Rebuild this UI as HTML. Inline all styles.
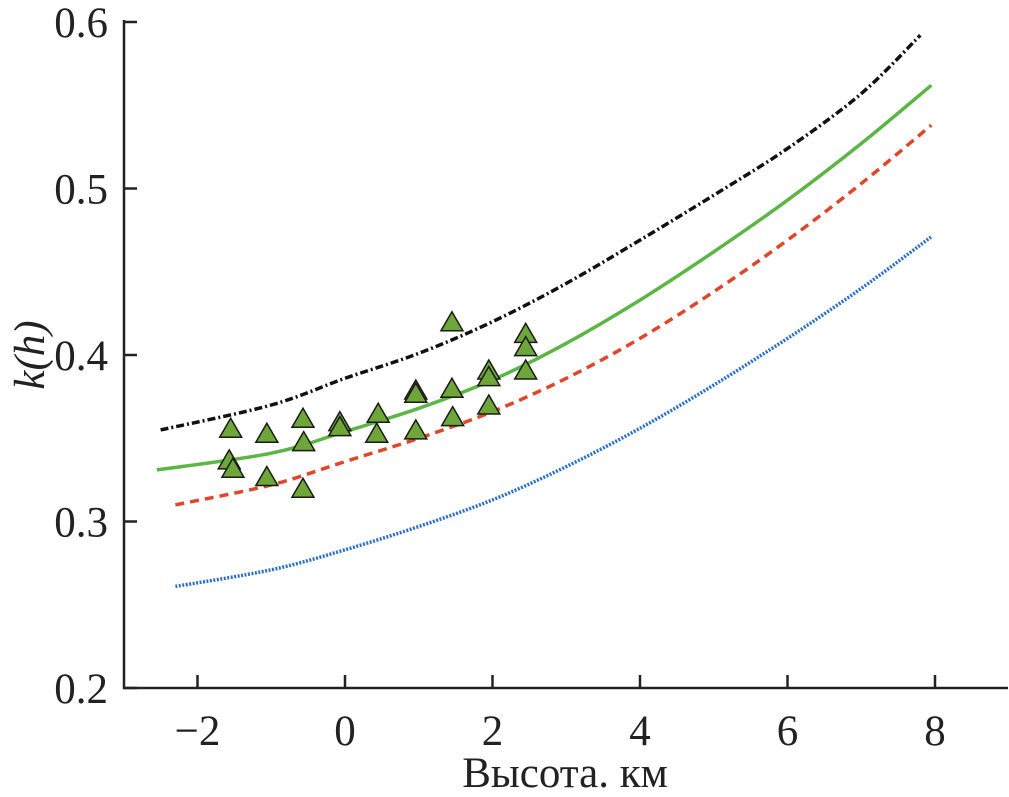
<!DOCTYPE html>
<html><head><meta charset="utf-8"><style>
body{margin:0;background:#fff}
svg{display:block;font-family:"Liberation Serif","Times New Roman",serif}
</style></head><body>
<svg id="c" width="1009" height="797" viewBox="0 0 1009 797" xmlns="http://www.w3.org/2000/svg"></svg>
<script>
const xTicks=[-2,0,2,4,6,8];
const yTicks=[0.2,0.3,0.4,0.5,0.6];
const hBlack=[-2.5,-1,0,1,2,3,4,5,6,7,7.8];
const kBlack=[0.355,0.370,0.386,0.401,0.420,0.443,0.469,0.496,0.524,0.557,0.592];
const hGreen=[-2.55,-1,0,1,2,3,4,5,6,7,7.95];
const kGreen=[0.331,0.341,0.354,0.368,0.385,0.407,0.433,0.462,0.493,0.527,0.562];
const hRed=[-2.3,-1,0,1,2,3,4,5,6,7,7.95];
const kRed=[0.310,0.322,0.336,0.350,0.366,0.386,0.410,0.438,0.469,0.503,0.538];
const hBlue=[-2.3,-1,0,1,2,3,4,5,6,7,7.95];
const kBlue=[0.261,0.271,0.283,0.297,0.313,0.333,0.356,0.382,0.410,0.440,0.471];
const obsH=[-1.55,-1.57,-1.52,-1.06,-1.06,-0.57,-0.56,-0.57,-0.07,-0.07,0.45,0.43,0.96,0.96,0.96,1.45,1.45,1.46,1.95,1.95,1.95,2.45,2.45,2.45];
const obsK=[0.356,0.337,0.332,0.353,0.327,0.362,0.348,0.320,0.360,0.357,0.365,0.353,0.379,0.377,0.355,0.420,0.380,0.363,0.391,0.387,0.370,0.413,0.405,0.391];

const NS="http://www.w3.org/2000/svg";
const svg=document.getElementById('c');
const X=h=>345+h*73.75;
const Y=k=>688-(k-0.2)*1665;
function mk(t,a,p){const e=document.createElementNS(NS,t);for(const k in a)e.setAttribute(k,a[k]);(p||svg).appendChild(e);return e;}

const axes=mk('g',{});


mk('path',{d:'M124,20 V688 H1008',fill:'none',stroke:'#222','stroke-width':2.5},axes);
xTicks.forEach(v=>{
  mk('line',{x1:X(v),x2:X(v),y1:688,y2:675,stroke:'#222','stroke-width':2.5},axes);
  const t=mk('text',{x:X(v),y:745,'font-size':43,'text-anchor':'middle',fill:'#222'},axes);
  t.textContent=v<0?'\u2212'+(-v):String(v);
  
  
});
yTicks.forEach(v=>{
  mk('line',{x1:124,x2:137,y1:Y(v),y2:Y(v),stroke:'#222','stroke-width':2.5},axes);
  const t=mk('text',{x:108,y:Y(v)+15,'font-size':43,'text-anchor':'end',fill:'#222'},axes);
  t.textContent=v.toFixed(1);
  
  
});
const xt=mk('text',{x:565,y:787,'font-size':43,'text-anchor':'middle',fill:'#222'});
xt.textContent='Высота. км';


const yt=mk('text',{x:0,y:0,'font-size':43,'text-anchor':'middle',fill:'#222','font-style':'italic',transform:'translate(44,355) rotate(-90)'});
yt.textContent='k(h)';



function line(hs,ks,color,dash,name){
  const P=hs.map((h,i)=>[X(h),Y(ks[i])]);
  let d='M'+P[0][0].toFixed(1)+','+P[0][1].toFixed(1);
  for(let i=0;i<P.length-1;i++){
    const p0=P[Math.max(0,i-1)],p1=P[i],p2=P[i+1],p3=P[Math.min(P.length-1,i+2)];
    const c1=[p1[0]+(p2[0]-p0[0])/6,p1[1]+(p2[1]-p0[1])/6];
    const c2=[p2[0]-(p3[0]-p1[0])/6,p2[1]-(p3[1]-p1[1])/6];
    d+=` C${c1[0].toFixed(1)},${c1[1].toFixed(1)} ${c2[0].toFixed(1)},${c2[1].toFixed(1)} ${p2[0].toFixed(1)},${p2[1].toFixed(1)}`;
  }
  const p=mk('path',{d:d,fill:'none',stroke:color,'stroke-width':3.5,'stroke-dasharray':dash,'stroke-linejoin':'round'});
  
  
}
line(hBlack,kBlack,'#111','8,3,2,3','black-dashdot-line');
line(hGreen,kGreen,'#5cb544','none','green-solid-line');
line(hRed,kRed,'#e0462a','9,6','red-dashed-line');
line(hBlue,kBlue,'#2b6fc6','2,1.5','blue-dotted-line');

obsH.forEach((h,i)=>{
  const x=X(h),y=Y(obsK[i]);
  const p=mk('polygon',{points:`${x},${y-10} ${x-11},${y+9} ${x+11},${y+9}`,fill:'#6ea63a',stroke:'#1a1a1a','stroke-width':1.5});
  
  
});
</script>
</body></html>
